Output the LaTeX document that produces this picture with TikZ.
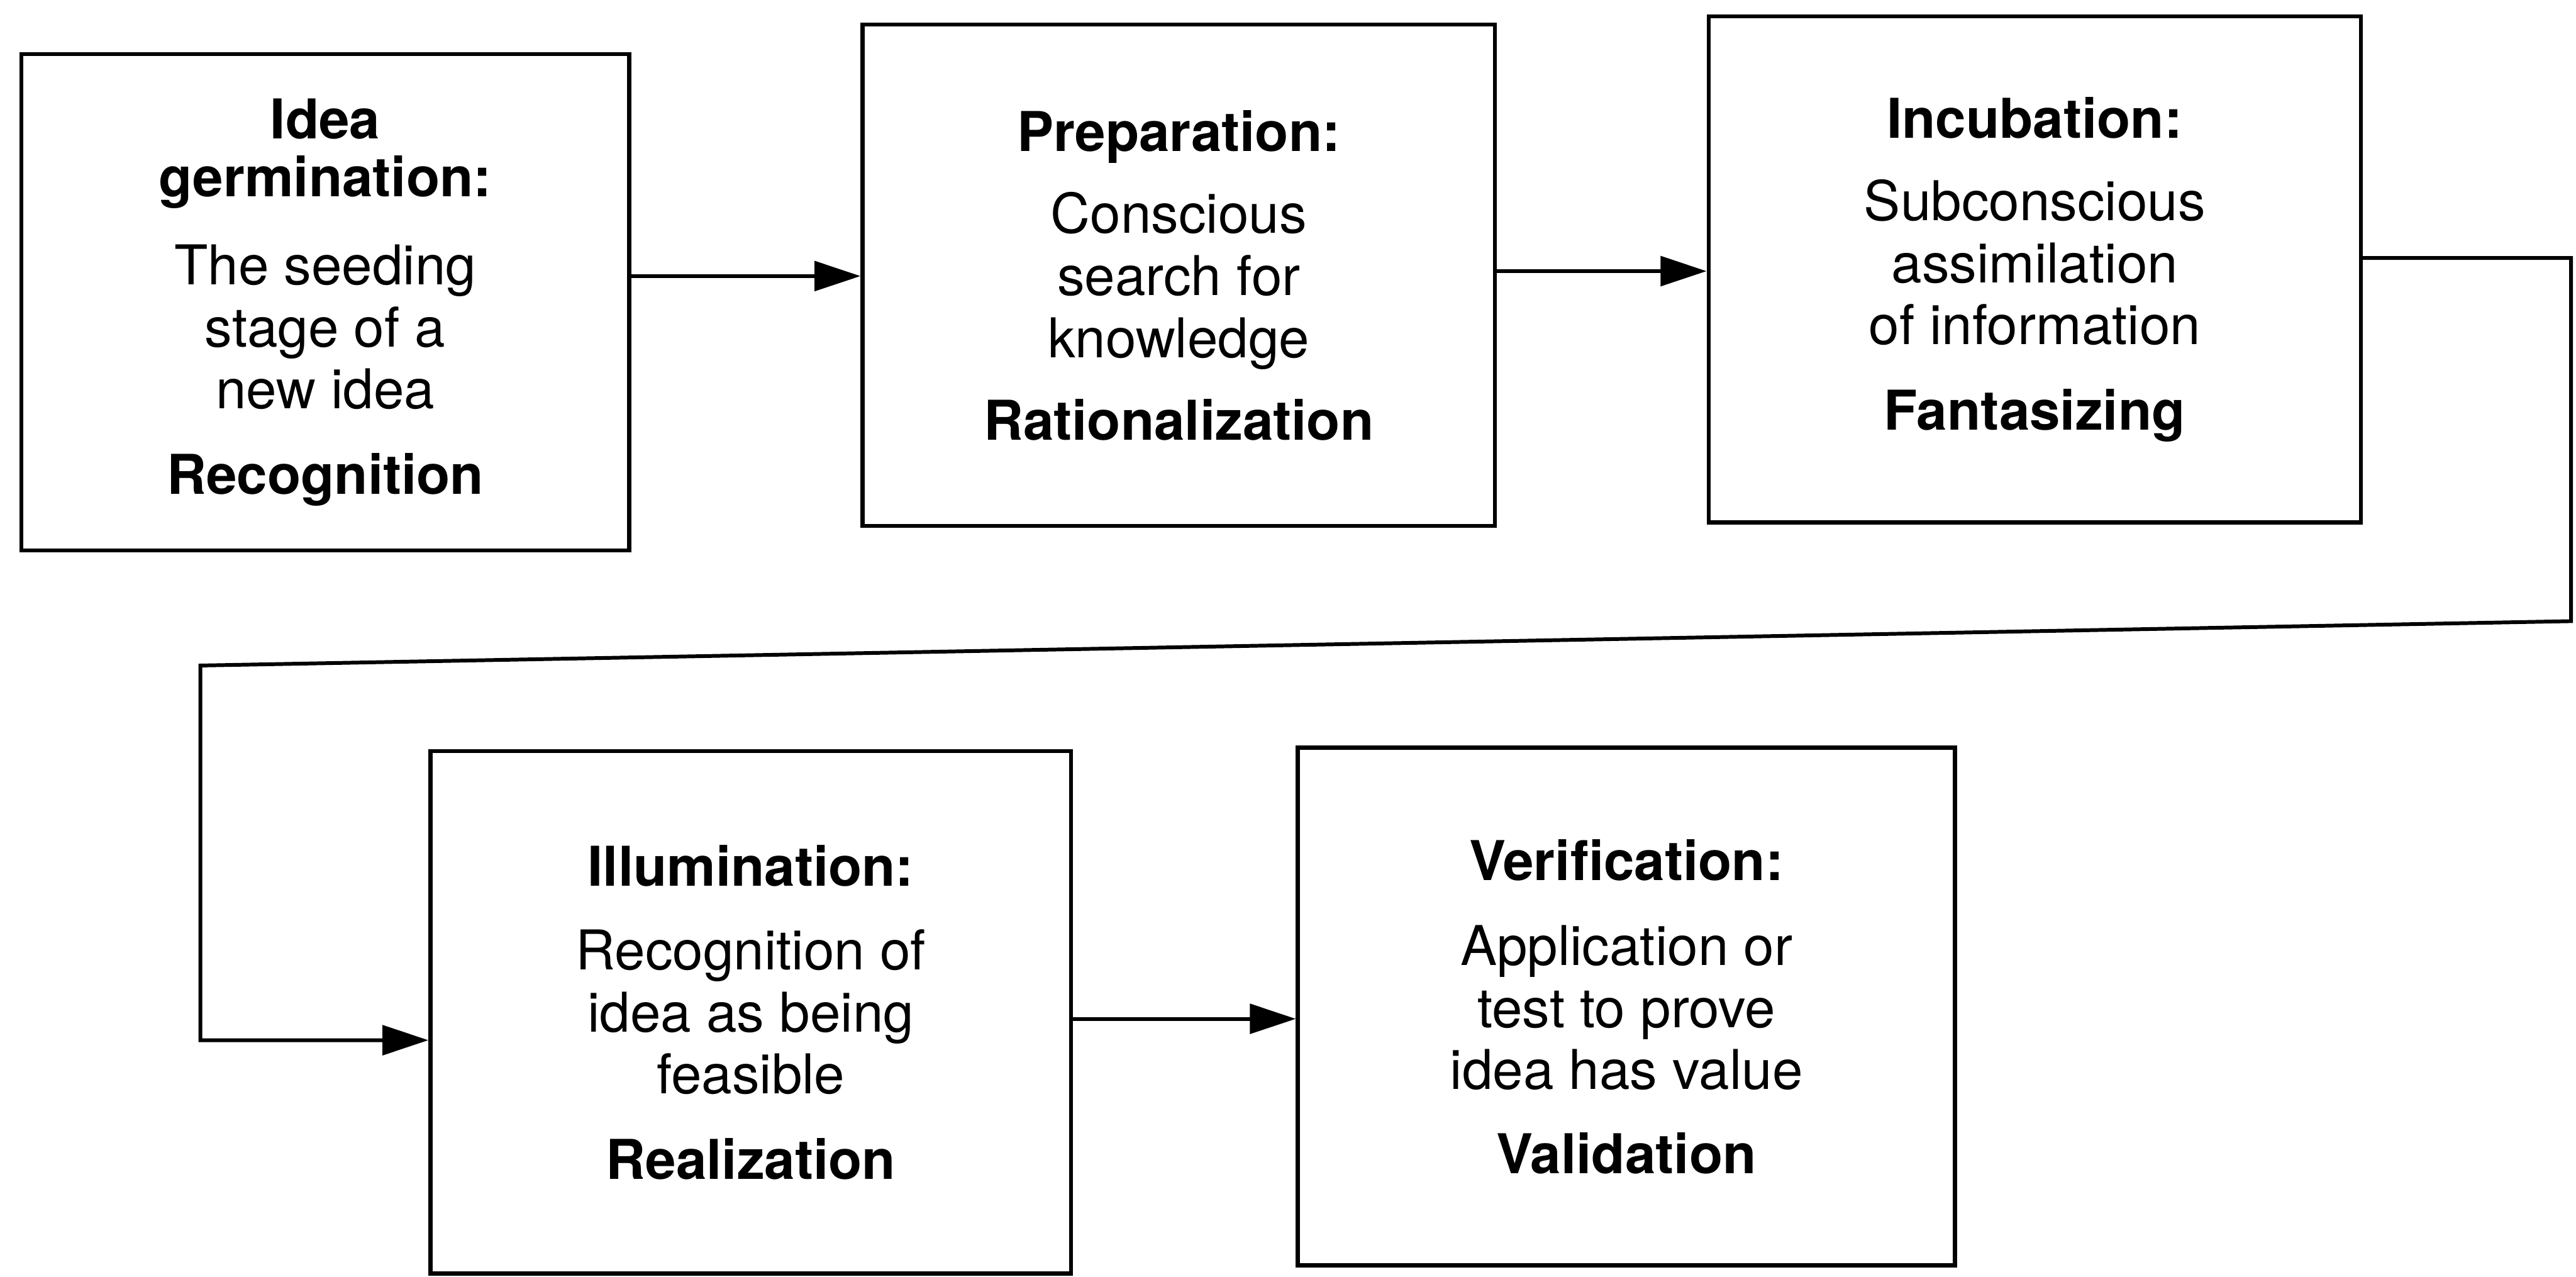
\documentclass[tikz,border=0pt]{standalone}
\usepackage{fontspec}
\setmainfont{TeX Gyre Heros}
\usetikzlibrary{arrows.meta}
\begin{document}
\begin{tikzpicture}[x=0.02cm,y=-0.02cm,
  stage/.style n args={2}{draw, line width=1.4pt, rectangle, inner sep=0pt,
    minimum width=#1*0.02cm, minimum height=#2*0.02cm, align=center,
    font=\fontsize{19}{21.5}\selectfont},
  flow/.style={line width=1.3pt, -{Triangle[length=0.56cm,width=0.36cm]}}]
\useasboundingbox (0,0) rectangle (1568,777);

\node[stage={370}{302}] (b1) at (198,184)
  {\textbf{Idea}\\[-1.5pt]\textbf{germination:}\\[9pt]The seeding\\stage of a\\new idea\\[8pt]\textbf{Recognition}};
\node[stage={385}{305}] (b2) at (717.5,167.5)
  {\textbf{Preparation:}\\[7pt]Conscious\\search for\\knowledge\\[7pt]\textbf{Rationalization}};
\node[stage={397}{308}] (b3) at (1238.5,164)
  {\textbf{Incubation:}\\[7pt]Subconscious\\assimilation\\of information\\[8pt]\textbf{Fantasizing}};
\node[stage={390}{318}] (b4) at (457,616)
  {\textbf{Illumination:}\\[7.5pt]Recognition of\\idea as being\\feasible\\[8pt]\textbf{Realization}};
\node[stage={400}{315}] (b5) at (990,612.5)
  {\textbf{Verification:}\\[8pt]Application or\\test to prove\\idea has value\\[7.5pt]\textbf{Validation}};

\coordinate (r1) at (0,168);
\coordinate (r2) at (0,165);
\coordinate (r3) at (0,620);
\coordinate (c1) at (1565,157);
\coordinate (c2) at (1565,378);
\coordinate (c3) at (122,405);
\coordinate (c4) at (122,633);

\draw[flow] (b1.east |- r1) -- (b2.west |- r1);
\draw[flow] (b2.east |- r2) -- (b3.west |- r2);
\draw[flow] (b3.east |- c1) -- (c1) -- (c2) -- (c3) -- (c4) -- (b4.west |- c4);
\draw[flow] (b4.east |- r3) -- (b5.west |- r3);
\end{tikzpicture}
\end{document}
